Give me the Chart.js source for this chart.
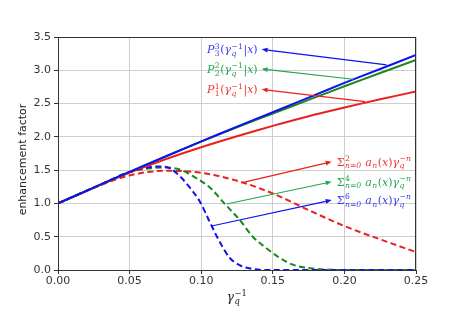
<!DOCTYPE html>
<html>
<head>
<meta charset="utf-8">
<script src="https://cdn.jsdelivr.net/npm/chart.js@4.4.1/dist/chart.umd.min.js"></script>
<style>
  html, body { margin: 0; padding: 0; background: #ffffff; }
  #wrap { width: 463px; height: 309px; }
</style>
</head>
<body>
<div id="wrap"><canvas id="chart" width="463" height="309"></canvas></div>
<script>
// gamma_q^-1 samples for the solid curves
const xSolid = [0, 0.025, 0.05, 0.075, 0.1, 0.125, 0.15, 0.175, 0.2, 0.225, 0.25];
const p3Values = [1.0, 1.238, 1.474, 1.705, 1.932, 2.153, 2.37, 2.59, 2.81, 3.02, 3.23];
const p2Values = [1.0, 1.238, 1.474, 1.704, 1.928, 2.143, 2.35, 2.555, 2.76, 2.96, 3.155];
const p1Values = [1.0, 1.236, 1.462, 1.664, 1.845, 2.01, 2.165, 2.31, 2.44, 2.565, 2.68];

// truncated series (dashed)
const sum2X = [0, 0.025, 0.05, 0.075, 0.1, 0.125, 0.15, 0.175, 0.2, 0.225, 0.25];
const sum2Values = [1.0, 1.235, 1.42, 1.49, 1.46, 1.34, 1.15, 0.9, 0.66, 0.46, 0.27];

const sum4X = [0, 0.025, 0.05, 0.065, 0.075, 0.085, 0.095, 0.106, 0.117, 0.127, 0.136, 0.146, 0.155, 0.164, 0.176, 0.19, 0.2, 0.25];
const sum4Values = [1.0, 1.238, 1.47, 1.53, 1.54, 1.51, 1.4, 1.24, 0.98, 0.75, 0.5, 0.32, 0.18, 0.08, 0.025, 0.005, 0, 0];

const sum6X = [0, 0.025, 0.05, 0.07, 0.078, 0.085, 0.092, 0.099, 0.106, 0.113, 0.12, 0.128, 0.136, 0.145, 0.2, 0.25];
const sum6Values = [1.0, 1.238, 1.47, 1.555, 1.53, 1.41, 1.24, 1.03, 0.72, 0.42, 0.18, 0.06, 0.015, 0, 0, 0];

const xTicks = [0, 0.05, 0.1, 0.15, 0.2, 0.25];
const yTicks = [0, 0.5, 1.0, 1.5, 2.0, 2.5, 3.0, 3.5];

const BLUE = "#1010f0";
const GREEN = "#17891d";
const RED = "#e8201e";
const BLUE_TXT = "#3a3ae8";
const GREEN_TXT = "#20a650";
const RED_TXT = "#ec3434";

function pairs(xs, ys) {
  return xs.map((x, i) => ({ x, y: ys[i] }));
}

// math labels: segments {t, it, sub, sup}
function pLabel(k) {
  return [{ t: "P", it: true, sub: String(k), sup: String(k) }, { t: "(" }, { t: "γ", it: true, sub: "q", subIt: true, sup: "−1" }, { t: "|" }, { t: "x", it: true }, { t: ")" }];
}
function sumLabel(n) {
  return [{ t: "Σ", sub: "n=0", subIt: true, sup: String(n) }, { t: " a", it: true, sub: "n", subIt: true }, { t: "(" }, { t: "x", it: true }, { t: ")" }, { t: "γ", it: true, sub: "q", subIt: true, sup: "−n", supIt: true }];
}

// arrows in data coords: from tail to head, label at head
const annotations = [
  { from: [0.2295, 3.08], to: [0.1422, 3.315], color: BLUE, text: pLabel(3), textColor: BLUE_TXT, side: "left" },
  { from: [0.2062, 2.865], to: [0.1422, 3.02], color: GREEN_TXT, text: pLabel(2), textColor: GREEN_TXT, side: "left" },
  { from: [0.2144, 2.53], to: [0.1422, 2.714], color: RED, text: pLabel(1), textColor: RED_TXT, side: "left" },
  { from: [0.1294, 1.317], to: [0.1911, 1.627], color: RED, text: sumLabel(2), textColor: RED_TXT, side: "right" },
  { from: [0.1178, 0.991], to: [0.1911, 1.326], color: GREEN_TXT, text: sumLabel(4), textColor: GREEN_TXT, side: "right" },
  { from: [0.1073, 0.661], to: [0.1911, 1.05], color: BLUE, text: sumLabel(6), textColor: BLUE_TXT, side: "right" },
];

const MATH_FONT = "'DejaVu Serif'";
const MATH_SIZE = 11;

function fontOf(size, it) {
  return `${it ? "italic " : ""}${size}px ${MATH_FONT}`;
}

function measureMath(ctx, segs, size) {
  let w = 0;
  segs.forEach((s) => {
    ctx.font = fontOf(size, s.it);
    w += ctx.measureText(s.t).width;
    let sw = 0;
    if (s.sub) {
      ctx.font = fontOf(size * 0.7, s.subIt);
      sw = Math.max(sw, ctx.measureText(s.sub).width);
    }
    if (s.sup) {
      ctx.font = fontOf(size * 0.7, s.supIt);
      sw = Math.max(sw, ctx.measureText(s.sup).width);
    }
    w += sw + (sw ? 1 : 0);
  });
  return w;
}

function drawMath(ctx, segs, x, y, size, color) {
  // y is the vertical middle of the text
  const base = y + size * 0.35;
  ctx.fillStyle = color;
  ctx.textBaseline = "alphabetic";
  ctx.textAlign = "left";
  let cx = x;
  segs.forEach((s) => {
    ctx.font = fontOf(size, s.it);
    ctx.fillText(s.t, cx, base);
    cx += ctx.measureText(s.t).width;
    let sw = 0;
    if (s.sub) {
      ctx.font = fontOf(size * 0.7, s.subIt);
      ctx.fillText(s.sub, cx + 0.5, base + size * 0.25);
      sw = Math.max(sw, ctx.measureText(s.sub).width);
    }
    if (s.sup) {
      ctx.font = fontOf(size * 0.7, s.supIt);
      ctx.fillText(s.sup, cx + 0.5, base - size * 0.42);
      sw = Math.max(sw, ctx.measureText(s.sup).width);
    }
    cx += sw + (sw ? 1 : 0);
  });
}

const decorPlugin = {
  id: "decor",
  afterDatasetsDraw(chart) {
    const { ctx, chartArea, scales } = chart;
    const sx = scales.x;
    const sy = scales.y;

    ctx.save();
    // frame
    ctx.strokeStyle = "#333333";
    ctx.lineWidth = 1;
    ctx.strokeRect(chartArea.left + 0.5, chartArea.top + 0.5,
      chartArea.right - chartArea.left - 1, chartArea.bottom - chartArea.top);

    // arrows + labels
    annotations.forEach((a) => {
      const x0 = sx.getPixelForValue(a.from[0]);
      const y0 = sy.getPixelForValue(a.from[1]);
      const x1 = sx.getPixelForValue(a.to[0]);
      const y1 = sy.getPixelForValue(a.to[1]);
      const ang = Math.atan2(y1 - y0, x1 - x0);
      const hl = 6;
      const hw = 2.4;
      const bx = x1 - hl * Math.cos(ang);
      const by = y1 - hl * Math.sin(ang);
      ctx.strokeStyle = a.color;
      ctx.fillStyle = a.color;
      ctx.lineWidth = 1.2;
      ctx.beginPath();
      ctx.moveTo(x0, y0);
      ctx.lineTo(bx, by);
      ctx.stroke();
      ctx.beginPath();
      ctx.moveTo(x1, y1);
      ctx.lineTo(bx + hw * Math.sin(ang), by - hw * Math.cos(ang));
      ctx.lineTo(bx - hw * Math.sin(ang), by + hw * Math.cos(ang));
      ctx.closePath();
      ctx.fill();

      const w = measureMath(ctx, a.text, MATH_SIZE);
      const tx = a.side === "left" ? x1 - 4 - w : x1 + 5;
      drawMath(ctx, a.text, tx, y1, MATH_SIZE, a.textColor);
    });

    // axis titles
    const xt = [{ t: "γ", it: true, sub: "q", subIt: true, sup: "−1" }];
    const xw = measureMath(ctx, xt, 12);
    drawMath(ctx, xt, (chartArea.left + chartArea.right) / 2 - xw / 2, 297, 12, "#222222");

    ctx.translate(23, (chartArea.top + chartArea.bottom) / 2 + 6);
    ctx.rotate(-Math.PI / 2);
    ctx.font = "11px 'DejaVu Sans'";
    ctx.fillStyle = "#222222";
    ctx.textAlign = "center";
    ctx.textBaseline = "middle";
    ctx.fillText("enhancement factor", 0, 0);
    ctx.restore();
  },
};

function solid(label, data, color, order) {
  return { label, data, borderColor: color, borderWidth: 2, pointRadius: 0, fill: false, tension: 0.3, order };
}
function dashed(label, data, color, order) {
  return { label, data, borderColor: color, borderWidth: 2, borderDash: [6, 3.5], pointRadius: 0, fill: false, cubicInterpolationMode: "monotone", order };
}

new Chart(document.getElementById("chart"), {
  type: "line",
  data: {
    datasets: [
      solid("P3", pairs(xSolid, p3Values), BLUE, 0),
      solid("P2", pairs(xSolid, p2Values), GREEN, 1),
      solid("P1", pairs(xSolid, p1Values), RED, 2),
      dashed("sum6", pairs(sum6X, sum6Values), BLUE, 3),
      dashed("sum4", pairs(sum4X, sum4Values), GREEN, 4),
      dashed("sum2", pairs(sum2X, sum2Values), RED, 5),
    ],
  },
  options: {
    responsive: false,
    animation: false,
    events: [],
    layout: { padding: { top: 37, right: 47, left: 0, bottom: 0 } },
    plugins: { legend: { display: false }, tooltip: { enabled: false } },
    scales: {
      x: {
        type: "linear",
        min: 0,
        max: 0.25,
        afterFit: (s) => { s.height = 39; },
        afterBuildTicks: (s) => { s.ticks = xTicks.map((v) => ({ value: v })); },
        ticks: { color: "#333333", font: { family: "'DejaVu Sans'", size: 11 }, padding: 1, maxRotation: 0, callback: (v) => Number(v).toFixed(2) },
        grid: { color: "#cfcfcf", lineWidth: 1, tickLength: 4, tickColor: "#333333" },
        border: { display: true, color: "#333333" },
      },
      y: {
        min: 0,
        max: 3.5,
        afterFit: (s) => { s.width = 58; },
        afterBuildTicks: (s) => { s.ticks = yTicks.map((v) => ({ value: v })); },
        ticks: { color: "#333333", font: { family: "'DejaVu Sans'", size: 11 }, padding: 3, callback: (v) => Number(v).toFixed(1) },
        grid: { color: "#cfcfcf", lineWidth: 1, tickLength: 4, tickColor: "#333333" },
        border: { display: true, color: "#333333" },
      },
    },
  },
  plugins: [decorPlugin],
});
</script>
</body>
</html>
